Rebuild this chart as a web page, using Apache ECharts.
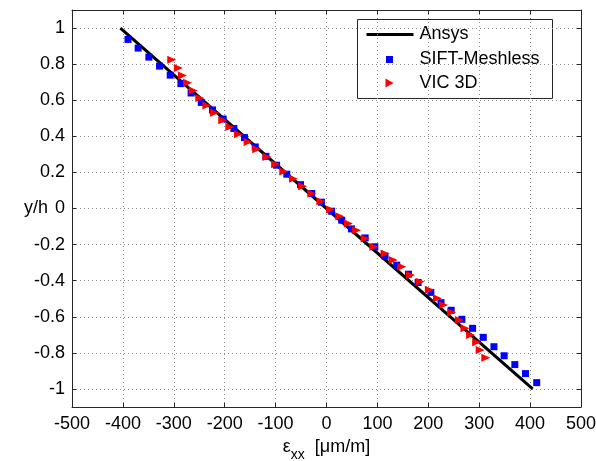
<!DOCTYPE html>
<html>
<head>
<meta charset="utf-8">
<script src="https://cdn.jsdelivr.net/npm/echarts@6/dist/echarts.min.js"></script>
<style>html,body{margin:0;padding:0;background:#fff}#c{width:596px;height:461px}</style>
</head>
<body>
<div id="c"></div>
<script>
// ---- data ----
const seriesNames = ['Ansys', 'SIFT-Meshless', 'VIC 3D'];
const xTicks = [-500, -400, -300, -200, -100, 0, 100, 200, 300, 400, 500];
const yTicks = [-1, -0.8, -0.6, -0.4, -0.2, 0, 0.2, 0.4, 0.6, 0.8, 1];

const ansysX = [-405, 0, 405];
const ansysY = [1, 0, -1];

const siftX = [-390, -370, -349, -328, -307, -286, -266, -246, -224, -203, -182, -161, -140, -119,
  -98, -78, -51, -29, -10, 10, 30, 49, 76, 95, 115, 138, 161, 180,
  205, 225, 245, 266, 287, 308, 329, 349, 370, 391, 413];
const siftY = [0.937, 0.889, 0.839, 0.789, 0.739, 0.692, 0.640, 0.588, 0.546, 0.496, 0.443, 0.393, 0.341, 0.289,
  0.240, 0.190, 0.132, 0.083, 0.035, -0.015, -0.065, -0.113, -0.163, -0.212, -0.264, -0.314, -0.364, -0.410,
  -0.465, -0.522, -0.564, -0.614, -0.664, -0.714, -0.766, -0.816, -0.865, -0.915, -0.965];

const vicX = [-304, -291, -283, -273, -262, -249, -235, -220, -204, -190, -173, -154, -137, -117,
  -100, -84, -65, -47, -29, -11, 8, 26, 43, 59, 76, 93, 115, 131, 148, 165, 184,
  202, 218, 230, 246, 261, 272, 283, 295, 302, 313];
const vicY = [0.824, 0.778, 0.737, 0.697, 0.654, 0.612, 0.571, 0.531, 0.489, 0.451, 0.411, 0.368, 0.328, 0.286,
  0.245, 0.205, 0.165, 0.123, 0.083, 0.040, -0.006, -0.043, -0.083, -0.120, -0.166, -0.212, -0.249, -0.286, -0.323, -0.369, -0.406,
  -0.450, -0.498, -0.535, -0.575, -0.618, -0.664, -0.701, -0.741, -0.784, -0.827];

const zip = (a, b) => a.map((v, i) => [v, b[i]]);

const FONT = "'Liberation Sans', Arial, sans-serif";
const FS = 18;
const AX = '#262626';
const GRID = { color: '#8c8c8c', type: [1, 3], width: 1 };

const chart = echarts.init(document.getElementById('c'), null, { renderer: 'canvas' });

const baseX = {
  type: 'value', min: -500, max: 500, interval: 100,
  axisLine: { show: true, onZero: false, lineStyle: { color: AX, width: 1 } },
  axisTick: { show: true, inside: true, length: 4, lineStyle: { color: AX } },
  splitLine: { show: true, lineStyle: GRID },
};
const baseY = {
  type: 'value', min: -1.1, max: 1.1,
  axisLine: { show: true, onZero: false, lineStyle: { color: AX, width: 1 } },
  axisTick: { show: true, inside: true, length: 4, lineStyle: { color: AX }, customValues: yTicks },
  splitLine: { show: true, lineStyle: GRID },
};

chart.setOption({
  animation: false,
  backgroundColor: '#fff',
  grid: { left: 72, right: 15, top: 10, bottom: 54, show: false, containLabel: false, outerBoundsMode: 'none' },
  xAxis: [
    Object.assign({}, baseX, {
      position: 'bottom',
      axisLabel: { color: '#000', fontSize: FS, fontFamily: FONT, margin: 8, customValues: xTicks },
      name: '{e|ε}{s|xx}  {e|[μm/m]}',
      nameLocation: 'middle', nameGap: 31, nameMoveOverlap: false,
      nameTextStyle: {
        color: '#000', fontFamily: FONT, fontSize: FS,
        rich: {
          e: { fontSize: FS, fontFamily: FONT, color: '#000', verticalAlign: 'top', lineHeight: 22 },
          s: { fontSize: 14, fontFamily: FONT, color: '#000', verticalAlign: 'top', lineHeight: 22, padding: [10, 0, 0, 0] }
        }
      }
    }),
    Object.assign({}, baseX, {
      position: 'top',
      axisLabel: { show: false },
      splitLine: { show: false }
    })
  ],
  yAxis: [
    Object.assign({}, baseY, {
      position: 'left',
      axisLabel: { color: '#000', fontSize: FS, fontFamily: FONT, margin: 7, customValues: yTicks },
      name: 'y/h', nameLocation: 'middle', nameRotate: 0, nameGap: 24, nameMoveOverlap: false,
      nameTextStyle: { color: '#000', fontSize: FS, fontFamily: FONT, padding: [0, 0, 10, 0] }
    }),
    Object.assign({}, baseY, {
      position: 'right',
      axisLabel: { show: false },
      splitLine: { show: false }
    })
  ],
  series: [
    {
      name: seriesNames[0], type: 'line', data: zip(ansysX, ansysY),
      showSymbol: false, symbol: 'none',
      lineStyle: { color: '#000', width: 3 }, z: 2
    },
    {
      name: seriesNames[1], type: 'scatter', data: zip(siftX, siftY),
      symbol: 'rect', symbolSize: 7,
      itemStyle: { color: '#0000ff', opacity: 1 }, z: 3
    },
    {
      name: seriesNames[2], type: 'scatter', data: zip(vicX, vicY),
      symbol: 'triangle', symbolSize: [8, 9], symbolRotate: -90,
      itemStyle: { color: '#ff0000', opacity: 1 }, z: 4
    }
  ],
  graphic: [
    {
      type: 'group', left: 357, top: 19, z: 100,
      children: [
        { type: 'rect', shape: { x: 0, y: 0, width: 195, height: 79 }, style: { fill: '#fff', stroke: AX, lineWidth: 1 } },
        { type: 'line', shape: { x1: 9, y1: 15, x2: 56, y2: 15 }, style: { stroke: '#000', lineWidth: 3 } },
        { type: 'rect', shape: { x: 28.5, y: 36.5, width: 7, height: 7 }, style: { fill: '#0000ff' } },
        { type: 'polygon', shape: { points: [[28, 59], [28, 68], [36, 63.5]] }, style: { fill: '#ff0000' } },
        { type: 'text', x: 62, y: 15, style: { text: seriesNames[0], fill: '#000', font: FS + 'px ' + FONT, textVerticalAlign: 'middle' } },
        { type: 'text', x: 62, y: 40, style: { text: seriesNames[1], fill: '#000', font: FS + 'px ' + FONT, textVerticalAlign: 'middle' } },
        { type: 'text', x: 62, y: 63.5, style: { text: seriesNames[2], fill: '#000', font: FS + 'px ' + FONT, textVerticalAlign: 'middle' } }
      ]
    }
  ]
});
</script>
</body>
</html>
